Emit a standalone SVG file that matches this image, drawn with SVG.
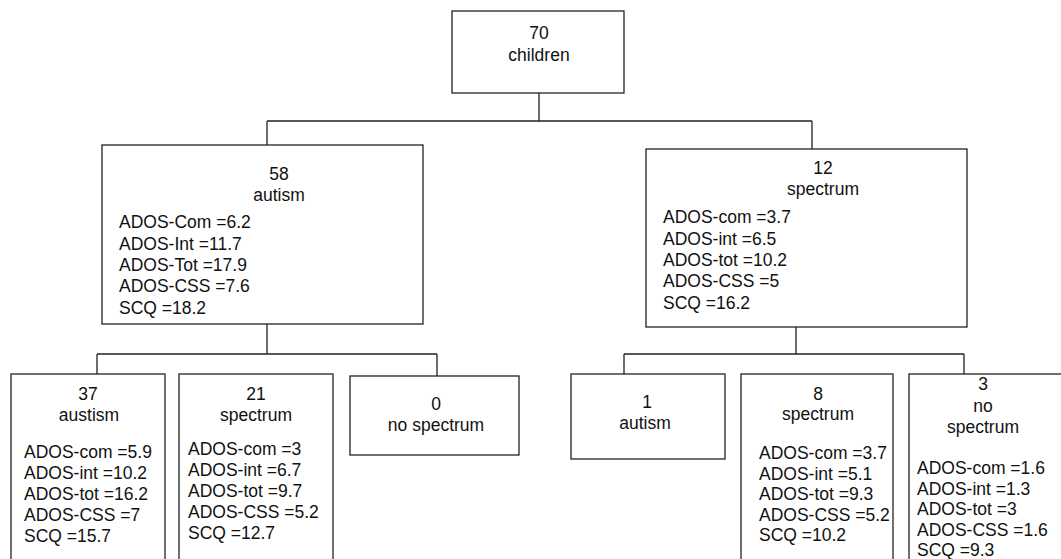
<svg xmlns="http://www.w3.org/2000/svg" width="1061" height="559" viewBox="0 0 1061 559">
<style>
.box{fill:#fff;stroke:#222;stroke-width:1.3}
.ln{fill:none;stroke:#222;stroke-width:1.3}
text{font-family:"Liberation Sans",Arial,sans-serif;font-size:17.5px;fill:#111}
.c{text-anchor:middle}
</style>
<rect width="1061" height="559" fill="#fff"/>
<g id="connectors">
<path class="ln" d="M539,93V121M267,121H812M267,121V145M812,121V149"/>
<path class="ln" d="M267,324V354M97,354H437M97,354V374M437,354V376"/>
<path class="ln" d="M796,327V354M624,354H964M624,354V374M964,354V374"/>
</g>
<g id="n-root">
<rect class="box" x="452" y="11" width="172" height="82"/>
<text class="c" x="539" y="39">70</text>
<text class="c" x="539" y="61">children</text>
</g>
<g id="n-autism">
<rect class="box" x="102" y="145" width="321" height="179"/>
<text class="c" x="279" y="180">58</text>
<text class="c" x="279" y="201">autism</text>
<text x="119" y="228">ADOS-Com =6.2</text>
<text x="119" y="249.5">ADOS-Int =11.7</text>
<text x="119" y="271">ADOS-Tot =17.9</text>
<text x="119" y="292">ADOS-CSS =7.6</text>
<text x="119" y="313.5">SCQ =18.2</text>
</g>
<g id="n-spectrum">
<rect class="box" x="646" y="149" width="321" height="178"/>
<text class="c" x="823" y="174">12</text>
<text class="c" x="823" y="195">spectrum</text>
<text x="663" y="223">ADOS-com =3.7</text>
<text x="663" y="244.5">ADOS-int =6.5</text>
<text x="663" y="266">ADOS-tot =10.2</text>
<text x="663" y="287">ADOS-CSS =5</text>
<text x="663" y="308.5">SCQ =16.2</text>
</g>
<g id="n-37">
<rect class="box" x="11" y="374" width="154" height="200"/>
<text class="c" x="88" y="400">37</text>
<text class="c" x="89" y="421">austism</text>
<text x="24" y="458">ADOS-com =5.9</text>
<text x="24" y="479">ADOS-int =10.2</text>
<text x="24" y="500">ADOS-tot =16.2</text>
<text x="24" y="521">ADOS-CSS =7</text>
<text x="24" y="542">SCQ =15.7</text>
</g>
<g id="n-21">
<rect class="box" x="179" y="374" width="154" height="200"/>
<text class="c" x="256" y="400">21</text>
<text class="c" x="256" y="421">spectrum</text>
<text x="188" y="455">ADOS-com =3</text>
<text x="188" y="476">ADOS-int =6.7</text>
<text x="188" y="497">ADOS-tot =9.7</text>
<text x="188" y="518">ADOS-CSS =5.2</text>
<text x="188" y="539">SCQ =12.7</text>
</g>
<g id="n-0">
<rect class="box" x="350" y="376" width="169" height="79"/>
<text class="c" x="436" y="410">0</text>
<text class="c" x="436" y="431">no spectrum</text>
</g>
<g id="n-1">
<rect class="box" x="571" y="374" width="154" height="85"/>
<text class="c" x="647" y="408">1</text>
<text class="c" x="645" y="429">autism</text>
</g>
<g id="n-8">
<rect class="box" x="741" y="374" width="152" height="200"/>
<text class="c" x="818" y="400">8</text>
<text class="c" x="818" y="420">spectrum</text>
<text x="759" y="459">ADOS-com =3.7</text>
<text x="759" y="479.5">ADOS-int =5.1</text>
<text x="759" y="500">ADOS-tot =9.3</text>
<text x="759" y="520.5">ADOS-CSS =5.2</text>
<text x="759" y="541">SCQ =10.2</text>
</g>
<g id="n-3">
<rect class="box" x="909" y="374" width="170" height="200"/>
<text class="c" x="983" y="390">3</text>
<text class="c" x="983" y="411.5">no</text>
<text class="c" x="983" y="432.5">spectrum</text>
<text x="917" y="474">ADOS-com =1.6</text>
<text x="917" y="494.5">ADOS-int =1.3</text>
<text x="917" y="515">ADOS-tot =3</text>
<text x="917" y="535.5">ADOS-CSS =1.6</text>
<text x="917" y="556">SCQ =9.3</text>
</g>
</svg>
